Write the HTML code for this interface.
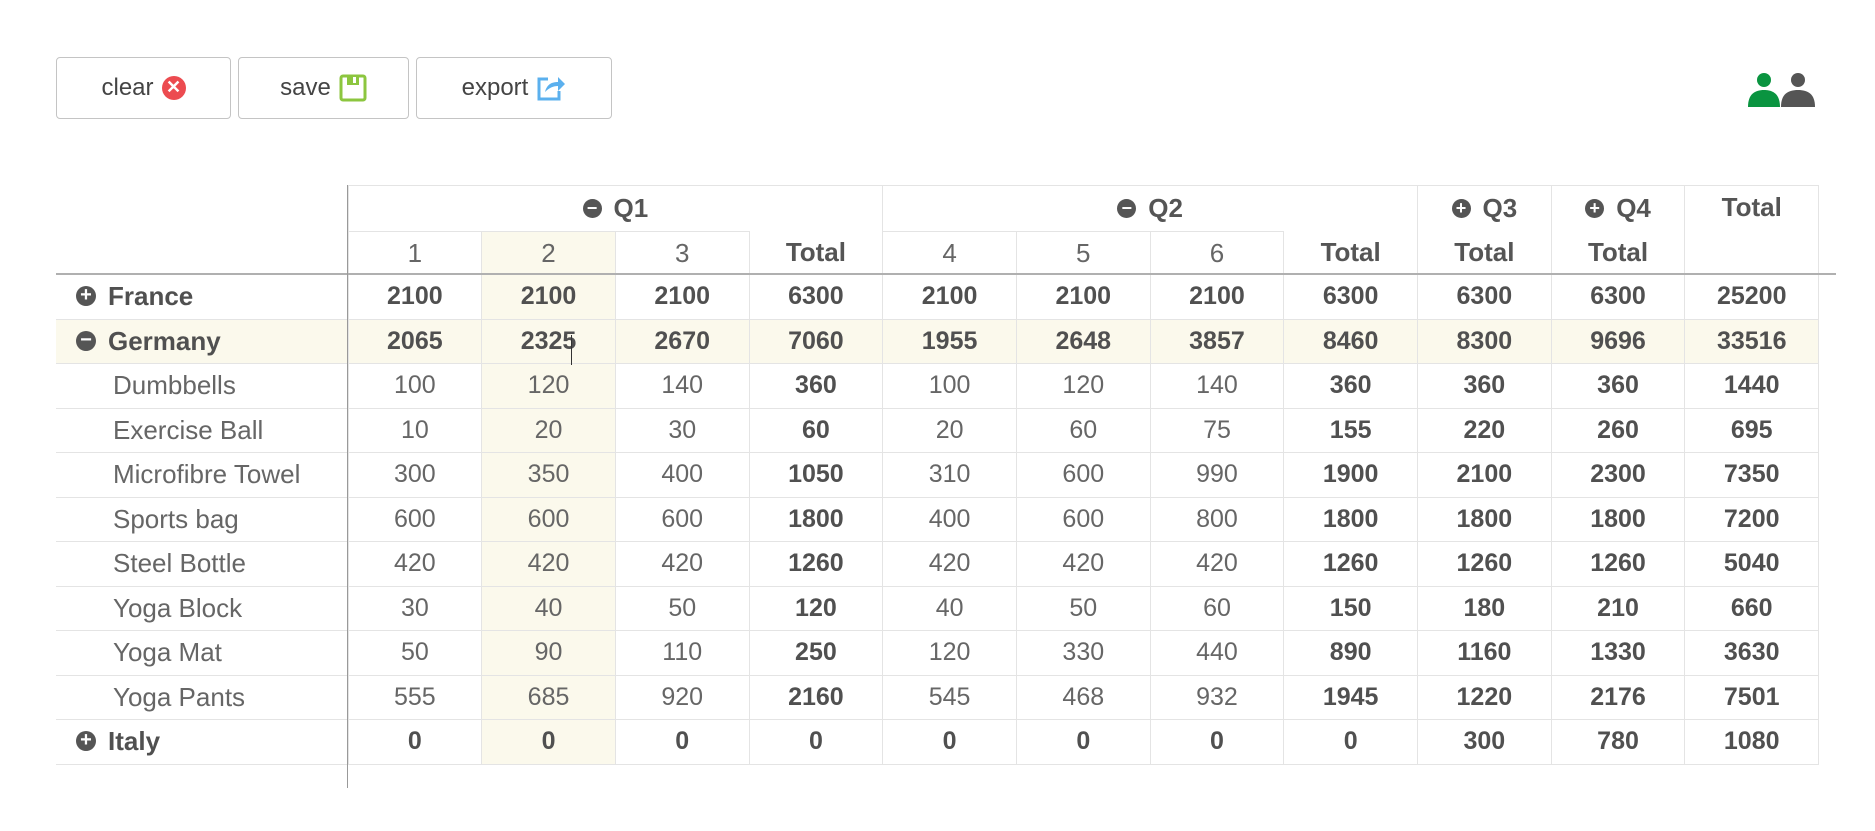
<!DOCTYPE html>
<html><head><meta charset="utf-8"><style>
body{margin:0;width:1875px;height:831px;background:#fff;font-family:"Liberation Sans",sans-serif;position:relative;overflow:hidden}
.btn{position:absolute;top:57px;height:62px;border:1px solid #c4c4c4;border-radius:4px;box-sizing:border-box;display:flex;align-items:center;justify-content:center;font-size:24px;color:#444;gap:8px}
table{position:absolute;left:56px;top:185px;border-collapse:collapse;table-layout:fixed;width:1763px}
td{border:1px solid #e4e4e4;text-align:center;font-size:25px;color:#666;padding:0;white-space:nowrap;overflow:hidden}
td.l{text-align:left;border-left:none;border-right:none;padding-left:57px;font-size:26px}
td.g{padding-left:20px;font-weight:bold;color:#505050}
td.b,tr.b td{font-weight:bold;color:#505050}
.y{background:#fbf9ec}
tr.d td{height:43.5px}
.ic{display:inline-block;width:20px;height:20px;border-radius:50%;background:#555;color:#fff;font-size:20px;line-height:19px;text-align:center;font-weight:bold;vertical-align:middle;position:relative;top:-2px;margin-right:12px}
.h td{font-weight:bold;color:#555;font-size:26px}
.h .ic{width:19px;height:19px;font-size:18px;line-height:18px}
</style></head><body>
<div class="btn" style="left:56px;width:175px">clear <span style="display:inline-block;width:24px;height:24px;border-radius:50%;background:#ec4b50;color:#fff;font-size:18px;line-height:23px;text-align:center;font-weight:bold">✕</span></div>
<div class="btn" style="left:238px;width:171px">save <svg width="28" height="28" viewBox="0 0 28 28"><rect x="2" y="2" width="24" height="24" rx="2" fill="none" stroke="#8cc63f" stroke-width="3"/><rect x="8" y="2" width="12" height="9" fill="#8cc63f"/><rect x="14" y="3" width="3" height="6" fill="#fff"/></svg></div>
<div class="btn" style="left:416px;width:196px">export <svg width="30" height="28" viewBox="0 0 30 28"><path d="M12 5H3v20h20v-8" fill="none" stroke="#5bb0ee" stroke-width="3"/><path d="M9 18c2-8 7-10 13-10V3l7 7-7 7v-5c-5 0-9 2-13 6z" fill="#5bb0ee"/></svg></div>
<svg style="position:absolute;left:1746px;top:72px" width="70" height="35" viewBox="0 0 70 35"><circle cx="18" cy="8" r="7" fill="#0a9440"/><path d="M2 35c0-13 7-17 16-17s16 4 16 17z" fill="#0a9440"/><circle cx="52" cy="8" r="7" fill="#555"/><path d="M35 35c0-13 7-17 17-17s17 4 17 17z" fill="#555"/></svg>
<table>
<colgroup><col style="width:292px"><col span="11" style="width:133.7px"></colgroup>
<tr class="h" style="height:46px"><td style="border:none"></td><td colspan="4" style="border-bottom:none"><span class="ic">−</span>Q1</td><td colspan="4" style="border-bottom:none"><span class="ic">−</span>Q2</td><td style="border-bottom:hidden"><span class="ic">+</span>Q3</td><td style="border-bottom:hidden"><span class="ic">+</span>Q4</td><td rowspan="2" style="vertical-align:top;padding-top:6px">Total</td></tr>
<tr class="h" style="height:43px"><td style="border:none"></td><td style="font-weight:normal;color:#666">1</td><td class="y" style="font-weight:normal;color:#666">2</td><td style="font-weight:normal;color:#666">3</td><td style="border-top:none">Total</td><td style="font-weight:normal;color:#666">4</td><td style="font-weight:normal;color:#666">5</td><td style="font-weight:normal;color:#666">6</td><td style="border-top:none">Total</td><td>Total</td><td>Total</td></tr>
<tr class="d b"><td class="l g"><span class="ic">+</span>France</td><td>2100</td><td class="y">2100</td><td>2100</td><td>6300</td><td>2100</td><td>2100</td><td>2100</td><td>6300</td><td>6300</td><td>6300</td><td>25200</td></tr>
<tr class="d b y"><td class="l g"><span class="ic">−</span>Germany</td><td>2065</td><td>2325</td><td>2670</td><td>7060</td><td>1955</td><td>2648</td><td>3857</td><td>8460</td><td>8300</td><td>9696</td><td>33516</td></tr>
<tr class="d"><td class="l">Dumbbells</td><td>100</td><td class="y">120</td><td>140</td><td class="b">360</td><td>100</td><td>120</td><td>140</td><td class="b">360</td><td class="b">360</td><td class="b">360</td><td class="b">1440</td></tr>
<tr class="d"><td class="l">Exercise Ball</td><td>10</td><td class="y">20</td><td>30</td><td class="b">60</td><td>20</td><td>60</td><td>75</td><td class="b">155</td><td class="b">220</td><td class="b">260</td><td class="b">695</td></tr>
<tr class="d"><td class="l">Microfibre Towel</td><td>300</td><td class="y">350</td><td>400</td><td class="b">1050</td><td>310</td><td>600</td><td>990</td><td class="b">1900</td><td class="b">2100</td><td class="b">2300</td><td class="b">7350</td></tr>
<tr class="d"><td class="l">Sports bag</td><td>600</td><td class="y">600</td><td>600</td><td class="b">1800</td><td>400</td><td>600</td><td>800</td><td class="b">1800</td><td class="b">1800</td><td class="b">1800</td><td class="b">7200</td></tr>
<tr class="d"><td class="l">Steel Bottle</td><td>420</td><td class="y">420</td><td>420</td><td class="b">1260</td><td>420</td><td>420</td><td>420</td><td class="b">1260</td><td class="b">1260</td><td class="b">1260</td><td class="b">5040</td></tr>
<tr class="d"><td class="l">Yoga Block</td><td>30</td><td class="y">40</td><td>50</td><td class="b">120</td><td>40</td><td>50</td><td>60</td><td class="b">150</td><td class="b">180</td><td class="b">210</td><td class="b">660</td></tr>
<tr class="d"><td class="l">Yoga Mat</td><td>50</td><td class="y">90</td><td>110</td><td class="b">250</td><td>120</td><td>330</td><td>440</td><td class="b">890</td><td class="b">1160</td><td class="b">1330</td><td class="b">3630</td></tr>
<tr class="d"><td class="l">Yoga Pants</td><td>555</td><td class="y">685</td><td>920</td><td class="b">2160</td><td>545</td><td>468</td><td>932</td><td class="b">1945</td><td class="b">1220</td><td class="b">2176</td><td class="b">7501</td></tr>
<tr class="d b"><td class="l g"><span class="ic">+</span>Italy</td><td>0</td><td class="y">0</td><td>0</td><td>0</td><td>0</td><td>0</td><td>0</td><td>0</td><td>300</td><td>780</td><td>1080</td></tr>
</table>
<div style="position:absolute;left:56px;top:273px;width:1780px;height:2px;background:#b0b0b0"></div>
<div style="position:absolute;left:347px;top:185px;width:1px;height:603px;background:#999"></div>
<div style="position:absolute;left:571px;top:335px;width:1px;height:30px;background:#333"></div>
</body></html>
